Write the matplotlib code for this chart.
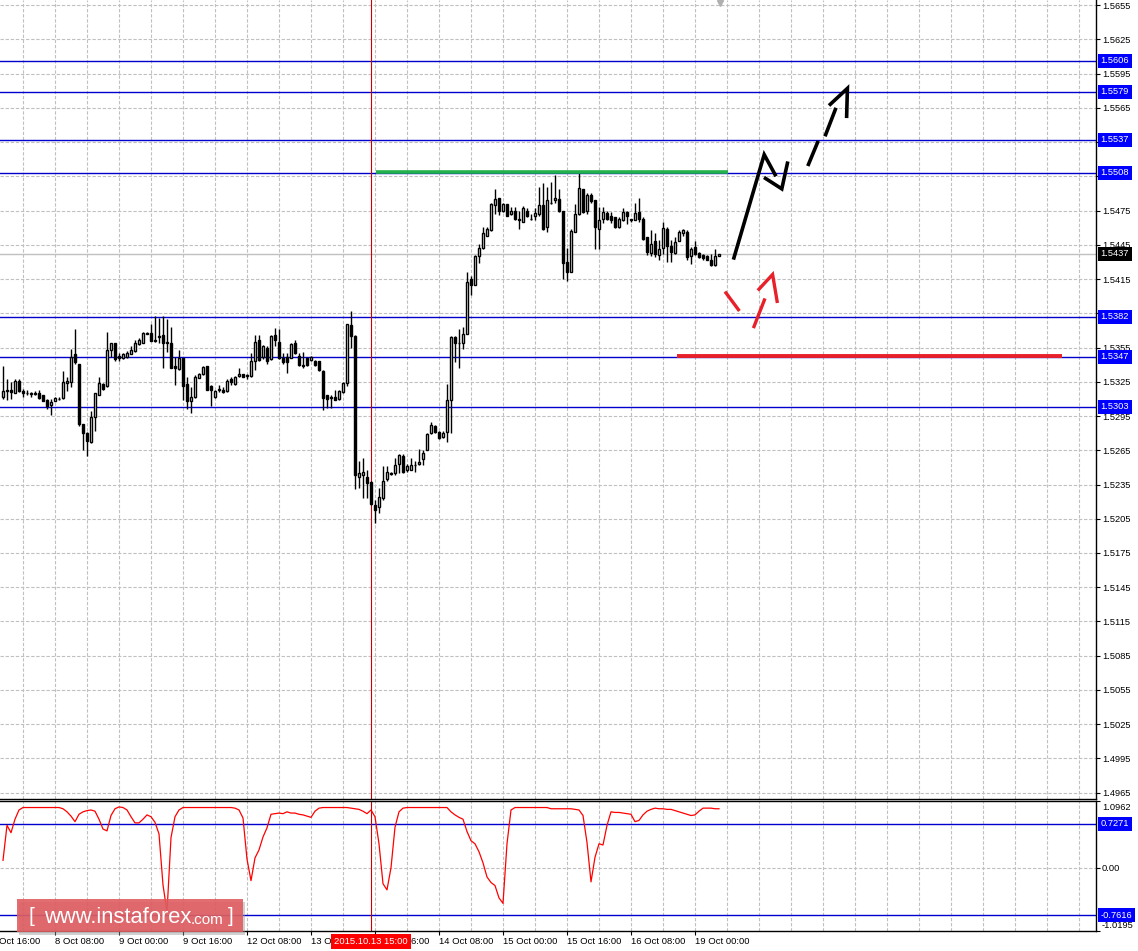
import numpy as np
import matplotlib
matplotlib.use("Agg")
import matplotlib.pyplot as plt
from matplotlib.transforms import Affine2D, blended_transform_factory
from matplotlib.patches import Rectangle

plt.rcParams['font.family'] = ['Liberation Sans', 'DejaVu Sans']

# ---------------- data ----------------
opens = [1.5312, 1.5318, 1.5318, 1.5315, 1.5326, 1.5317, 1.5315, 1.5314, 1.5315, 1.5315,
         1.5313, 1.5309, 1.5305, 1.5308, 1.5310, 1.5311, 1.5324, 1.5325, 1.5349, 1.5341,
         1.5288, 1.5280, 1.5272, 1.5294, 1.5313, 1.5323, 1.5321, 1.5353, 1.5359, 1.5348,
         1.5346, 1.5347, 1.5349, 1.5352, 1.5358, 1.5359, 1.5367, 1.5368, 1.5362, 1.5364,
         1.5366, 1.5360, 1.5359, 1.5339, 1.5336, 1.5346, 1.5323, 1.5308, 1.5312, 1.5328,
         1.5332, 1.5339, 1.5321, 1.5312, 1.5318, 1.5318, 1.5317, 1.5327, 1.5323, 1.5330,
         1.5332, 1.5331, 1.5330, 1.5343, 1.5362, 1.5347, 1.5355, 1.5345, 1.5366, 1.5360,
         1.5346, 1.5347, 1.5346, 1.5359, 1.5348, 1.5340, 1.5346, 1.5344, 1.5343, 1.5343,
         1.5334, 1.5313, 1.5312, 1.5312, 1.5310, 1.5316, 1.5324, 1.5375, 1.5365, 1.5242,
         1.5243, 1.5242, 1.5237, 1.5217, 1.5215, 1.5223, 1.5240, 1.5245, 1.5245, 1.5253,
         1.5260, 1.5248, 1.5248, 1.5252, 1.5253, 1.5257, 1.5265, 1.5280, 1.5286, 1.5281,
         1.5277, 1.5281, 1.5309, 1.5364, 1.5359, 1.5359, 1.5367, 1.5415, 1.5410, 1.5435,
         1.5442, 1.5453, 1.5458, 1.5480, 1.5486, 1.5475, 1.5481, 1.5472, 1.5475, 1.5468,
         1.5465, 1.5475, 1.5468, 1.5470, 1.5472, 1.5480, 1.5461, 1.5482, 1.5484, 1.5485,
         1.5475, 1.5430, 1.5421, 1.5456, 1.5472, 1.5494, 1.5475, 1.5489, 1.5484, 1.5459,
         1.5468, 1.5473, 1.5470, 1.5469, 1.5461, 1.5467, 1.5474, 1.5467, 1.5467, 1.5474,
         1.5468, 1.5452, 1.5438, 1.5448, 1.5436, 1.5442, 1.5459, 1.5444, 1.5438, 1.5448,
         1.5455, 1.5456, 1.5435, 1.5443, 1.5438, 1.5436, 1.5435, 1.5432, 1.5427, 1.5435]

closes = [1.5317, 1.5317, 1.5316, 1.5326, 1.5317, 1.5315, 1.5315, 1.5315, 1.5314, 1.5311,
          1.5308, 1.5304, 1.5307, 1.5311, 1.5310, 1.5325, 1.5326, 1.5347, 1.5342, 1.5288,
          1.5280, 1.5273, 1.5294, 1.5315, 1.5324, 1.5319, 1.5353, 1.5359, 1.5345, 1.5346,
          1.5349, 1.5350, 1.5353, 1.5359, 1.5362, 1.5368, 1.5368, 1.5361, 1.5361, 1.5365,
          1.5359, 1.5359, 1.5337, 1.5337, 1.5346, 1.5321, 1.5308, 1.5312, 1.5329, 1.5332,
          1.5338, 1.5318, 1.5318, 1.5317, 1.5319, 1.5316, 1.5326, 1.5325, 1.5329, 1.5332,
          1.5329, 1.5330, 1.5343, 1.5360, 1.5344, 1.5356, 1.5343, 1.5365, 1.5362, 1.5346,
          1.5342, 1.5342, 1.5358, 1.5350, 1.5340, 1.5339, 1.5340, 1.5347, 1.5340, 1.5335,
          1.5311, 1.5310, 1.5311, 1.5309, 1.5317, 1.5324, 1.5376, 1.5365, 1.5243, 1.5245,
          1.5246, 1.5236, 1.5218, 1.5213, 1.5224, 1.5238, 1.5246, 1.5244, 1.5252, 1.5261,
          1.5246, 1.5251, 1.5252, 1.5252, 1.5255, 1.5263, 1.5279, 1.5287, 1.5281, 1.5276,
          1.5280, 1.5309, 1.5364, 1.5359, 1.5359, 1.5367, 1.5412, 1.5410, 1.5435, 1.5442,
          1.5455, 1.5459, 1.5481, 1.5485, 1.5475, 1.5481, 1.5470, 1.5475, 1.5468, 1.5467,
          1.5477, 1.5470, 1.5468, 1.5473, 1.5480, 1.5459, 1.5484, 1.5482, 1.5486, 1.5475,
          1.5429, 1.5421, 1.5457, 1.5472, 1.5495, 1.5474, 1.5489, 1.5483, 1.5461, 1.5467,
          1.5474, 1.5468, 1.5467, 1.5461, 1.5468, 1.5474, 1.5470, 1.5468, 1.5473, 1.5468,
          1.5450, 1.5439, 1.5446, 1.5437, 1.5441, 1.5460, 1.5444, 1.5439, 1.5447, 1.5456,
          1.5458, 1.5434, 1.5441, 1.5437, 1.5434, 1.5433, 1.5432, 1.5427, 1.5435, 1.5437]

highs = [1.5339, 1.5327, 1.5325, 1.5327, 1.5327, 1.5319, 1.5318, 1.5316, 1.5317, 1.5318,
         1.5313, 1.5310, 1.5310, 1.5312, 1.5312, 1.5334, 1.5329, 1.5354, 1.5371, 1.5341,
         1.5288, 1.5281, 1.5299, 1.5315, 1.5329, 1.5324, 1.5369, 1.5359, 1.5359, 1.5350,
         1.5350, 1.5352, 1.5356, 1.5362, 1.5363, 1.5369, 1.5369, 1.5376, 1.5383, 1.5381,
         1.5383, 1.5380, 1.5373, 1.5347, 1.5353, 1.5346, 1.5329, 1.5320, 1.5331, 1.5333,
         1.5339, 1.5339, 1.5322, 1.5318, 1.5322, 1.5320, 1.5327, 1.5329, 1.5330, 1.5337,
         1.5332, 1.5332, 1.5350, 1.5366, 1.5366, 1.5357, 1.5356, 1.5366, 1.5372, 1.5371,
         1.5350, 1.5350, 1.5359, 1.5362, 1.5350, 1.5351, 1.5347, 1.5348, 1.5344, 1.5343,
         1.5335, 1.5313, 1.5313, 1.5318, 1.5318, 1.5325, 1.5376, 1.5387, 1.5366, 1.5256,
         1.5258, 1.5248, 1.5238, 1.5221, 1.5232, 1.5251, 1.5251, 1.5246, 1.5258, 1.5262,
         1.5262, 1.5253, 1.5258, 1.5256, 1.5266, 1.5265, 1.5280, 1.5290, 1.5287, 1.5282,
         1.5282, 1.5323, 1.5365, 1.5365, 1.5371, 1.5373, 1.5421, 1.5418, 1.5436, 1.5446,
         1.5461, 1.5461, 1.5482, 1.5494, 1.5486, 1.5482, 1.5481, 1.5478, 1.5478, 1.5475,
         1.5479, 1.5477, 1.5472, 1.5477, 1.5496, 1.5499, 1.5496, 1.5500, 1.5506, 1.5494,
         1.5475, 1.5442, 1.5459, 1.5481, 1.5508, 1.5494, 1.5490, 1.5490, 1.5484, 1.5478,
         1.5478, 1.5475, 1.5474, 1.5469, 1.5469, 1.5477, 1.5475, 1.5468, 1.5482, 1.5486,
         1.5469, 1.5452, 1.5458, 1.5455, 1.5449, 1.5465, 1.5461, 1.5449, 1.5452, 1.5458,
         1.5459, 1.5458, 1.5443, 1.5448, 1.5439, 1.5437, 1.5436, 1.5437, 1.5441, 1.5437]

lows = [1.5310, 1.5309, 1.5310, 1.5315, 1.5316, 1.5312, 1.5313, 1.5312, 1.5313, 1.5310,
        1.5308, 1.5301, 1.5296, 1.5308, 1.5309, 1.5310, 1.5317, 1.5320, 1.5341, 1.5286,
        1.5265, 1.5260, 1.5271, 1.5282, 1.5313, 1.5318, 1.5320, 1.5347, 1.5343, 1.5343,
        1.5345, 1.5346, 1.5349, 1.5351, 1.5357, 1.5359, 1.5367, 1.5361, 1.5360, 1.5359,
        1.5337, 1.5351, 1.5337, 1.5322, 1.5335, 1.5309, 1.5301, 1.5298, 1.5311, 1.5328,
        1.5331, 1.5318, 1.5304, 1.5311, 1.5316, 1.5315, 1.5316, 1.5322, 1.5322, 1.5329,
        1.5329, 1.5327, 1.5329, 1.5335, 1.5343, 1.5345, 1.5341, 1.5344, 1.5356, 1.5345,
        1.5341, 1.5333, 1.5346, 1.5349, 1.5339, 1.5337, 1.5339, 1.5343, 1.5339, 1.5334,
        1.5300, 1.5302, 1.5302, 1.5309, 1.5309, 1.5315, 1.5321, 1.5355, 1.5231, 1.5232,
        1.5223, 1.5223, 1.5217, 1.5201, 1.5210, 1.5221, 1.5238, 1.5243, 1.5243, 1.5245,
        1.5245, 1.5246, 1.5248, 1.5246, 1.5252, 1.5252, 1.5265, 1.5279, 1.5280, 1.5275,
        1.5276, 1.5272, 1.5280, 1.5342, 1.5337, 1.5354, 1.5367, 1.5401, 1.5410, 1.5429,
        1.5441, 1.5453, 1.5457, 1.5472, 1.5471, 1.5474, 1.5470, 1.5471, 1.5467, 1.5459,
        1.5465, 1.5469, 1.5467, 1.5467, 1.5470, 1.5458, 1.5456, 1.5481, 1.5482, 1.5474,
        1.5415, 1.5413, 1.5421, 1.5456, 1.5471, 1.5473, 1.5472, 1.5482, 1.5441, 1.5441,
        1.5464, 1.5467, 1.5464, 1.5460, 1.5460, 1.5466, 1.5463, 1.5465, 1.5467, 1.5465,
        1.5449, 1.5436, 1.5435, 1.5434, 1.5432, 1.5437, 1.5430, 1.5430, 1.5437, 1.5448,
        1.5453, 1.5432, 1.5428, 1.5436, 1.5433, 1.5432, 1.5432, 1.5426, 1.5426, 1.5435]

indicator = [0.13, 0.70, 0.58, 0.80, 0.95, 0.99, 0.99, 0.99, 0.99, 0.99,
             0.99, 0.99, 0.99, 0.99, 0.99, 0.97, 0.92, 0.85, 0.76, 0.88,
             0.92, 0.94, 0.95, 0.93, 0.80, 0.64, 0.61, 0.86, 0.97, 1.00,
             0.99, 0.95, 0.84, 0.74, 0.74, 0.80, 0.87, 0.84, 0.75, 0.56,
             -0.27, -0.71, 0.50, 0.84, 0.95, 0.99, 0.99, 0.99, 0.99, 0.99,
             0.99, 0.99, 0.99, 0.99, 0.99, 0.99, 0.99, 0.99, 0.98, 0.95,
             0.82, 0.15, -0.20, 0.17, 0.30, 0.51, 0.66, 0.88, 0.89, 0.90,
             0.89, 0.92, 0.90, 0.90, 0.88, 0.87, 0.85, 0.83, 0.93, 0.98,
             0.99, 0.99, 0.99, 0.99, 0.99, 0.99, 0.99, 0.98, 0.97, 0.96,
             0.93, 0.89, 0.95, 0.84, 0.40, -0.25, -0.35, 0.01, 0.67, 0.92,
             0.98, 0.99, 0.99, 0.99, 0.99, 0.99, 0.99, 0.99, 0.99, 0.99,
             0.99, 0.99, 0.92, 0.87, 0.83, 0.80, 0.60, 0.45, 0.40, 0.27,
             0.09, -0.14, -0.23, -0.28, -0.48, -0.57, 0.40, 0.95, 0.99, 0.99,
             0.99, 0.99, 0.99, 0.99, 0.99, 0.99, 0.99, 0.97, 0.97, 0.97,
             0.97, 0.97, 0.97, 0.96, 0.95, 0.86, 0.42, -0.22, 0.18, 0.40,
             0.38, 0.70, 0.92, 0.91, 0.91, 0.90, 0.89, 0.88, 0.76, 0.78,
             0.87, 0.93, 0.96, 0.98, 0.97, 0.97, 0.96, 0.96, 0.94, 0.92,
             0.90, 0.88, 0.86, 0.87, 0.93, 0.98, 0.98, 0.98, 0.97, 0.97]

price_ticks = [1.4965, 1.4995, 1.5025, 1.5055, 1.5085, 1.5115, 1.5145, 1.5175,
               1.5205, 1.5235, 1.5265, 1.5295, 1.5325, 1.5355, 1.5385, 1.5415,
               1.5445, 1.5475, 1.5505, 1.5535, 1.5565, 1.5595, 1.5625, 1.5655]
levels = [1.5606, 1.5579, 1.5537, 1.5508, 1.5382, 1.5347, 1.5303]
bid = 1.5437
ind_levels = [0.7271, -0.7616]
ind_min, ind_max = -1.0195, 1.0962

time_tick_bars = [-3, 13, 29, 45, 61, 77, 93, 109, 125, 141, 157, 173]
time_labels = ["7 Oct 16:00", "8 Oct 08:00", "9 Oct 00:00", "9 Oct 16:00",
               "12 Oct 08:00", "13 Oct 00:00", "13 Oct 16:00", "14 Oct 08:00",
               "15 Oct 00:00", "15 Oct 16:00", "16 Oct 08:00", "19 Oct 00:00"]
cursor_bar = 92
cursor_label = "2015.10.13 15:00"

# hand-drawn annotations (bar index, price)
green_line = ([93.25, 181.25], 1.5509)
red_line = ([168.5, 264.75], 1.5348)
black_paths = [
    [(182.6, 1.5432), (190.3, 1.5524), (193.25, 1.5505)],
    [(190.25, 1.5504), (194.7, 1.5494), (196.2, 1.5518)],
    [(201.2, 1.5514), (203.8, 1.5536)],
    [(205.5, 1.5540), (208.25, 1.5565)],
    [(206.5, 1.5567), (211.1, 1.5582), (210.9, 1.5556)],
]
red_paths = [
    [(180.5, 1.5404), (184.1, 1.5387)],
    [(187.6, 1.5372), (190.5, 1.5398)],
    [(188.7, 1.5405), (192.4, 1.5419), (193.6, 1.5394)],
]

# ---------------- figure ----------------
W, H = 1138, 951
fig = plt.figure(figsize=(W / 100, H / 100), dpi=100)
fig.patch.set_facecolor('white')
pix = Affine2D().scale(1 / W, -1 / H).translate(0, 1) + fig.transFigure

ax = fig.add_axes([0, 1 - 799 / H, 1096 / W, 799 / H])
ax2 = fig.add_axes([0, 1 - 931 / H, 1096 / W, 130 / H])

XMIN, XMAX = -0.75, 273.25
YMIN, YMAX = 1.49595, 1.565943
grid_kw = dict(color='#c0c0c0', lw=0.8, ls=(0, (3.0, 1.6)), zorder=0)

o = np.array(opens); c = np.array(closes); h = np.array(highs); l = np.array(lows)
x = np.arange(len(o))

# main panel
for gx in np.arange(5, XMAX, 8):
    ax.axvline(gx, **grid_kw)
    ax2.axvline(gx, **grid_kw)
for p in price_ticks:
    ax.axhline(p, **grid_kw)

ax.axhline(bid, color='#c0c0c0', lw=1.0, zorder=1)
for lv in levels:
    ax.axhline(lv, color='#0000cc', lw=1.0, zorder=1.5)

ax.axvline(cursor_bar, color='#cc0000', lw=0.8, zorder=2)
ax2.axvline(cursor_bar, color='#cc0000', lw=0.8, zorder=2)

up = c >= o
ax.vlines(x, l, h, color='black', lw=1.0, zorder=3)
ax.bar(x, np.abs(c - o), bottom=np.minimum(o, c), width=0.55,
       color=np.where(up, 'white', 'black'), edgecolor='black', linewidth=1.0, zorder=4)

ax.plot(green_line[0], [green_line[1]] * 2, color='#22b14c', lw=2.6, solid_capstyle='butt', zorder=5)
ax.plot(red_line[0], [red_line[1]] * 2, color='#e8202a', lw=2.8, solid_capstyle='butt', zorder=5)
for path in black_paths:
    xs, ys = zip(*path)
    ax.plot(xs, ys, color='black', lw=2.6, solid_capstyle='butt', solid_joinstyle='miter', zorder=6)
for path in red_paths:
    xs, ys = zip(*path)
    ax.plot(xs, ys, color='#e8202a', lw=2.4, solid_capstyle='butt', solid_joinstyle='miter', zorder=6)

ax.plot([179.2], [1.5657], marker='v', color='#b0b0b0', ms=5, clip_on=False, zorder=7)

ax.yaxis.tick_right()
ax.set_yticks(price_ticks)
ax.set_yticklabels([f"{p:.4f}" for p in price_ticks])
ax.tick_params(axis='y', right=True, left=False, length=2.6, width=0.8, pad=2.2,
               labelsize=6.7, colors='black')
ax.set_xticks([])
ax.set_xlim(XMIN, XMAX)
ax.set_ylim(YMIN, YMAX)
for s in ['left', 'top']:
    ax.spines[s].set_visible(False)
for s in ['right', 'bottom']:
    ax.spines[s].set_linewidth(1.0)

btr = blended_transform_factory(ax.transAxes, ax.transData)
for lv in levels:
    ax.text(1.0042, lv, f"{lv:.4f}", transform=btr, ha='left', va='center', color='white',
            fontsize=6.7, zorder=20, clip_on=False,
            bbox=dict(boxstyle='square,pad=0.28', fc='#0000ff', ec='none'))
ax.text(1.0042, bid, f"{bid:.4f}", transform=btr, ha='left', va='center', color='white',
        fontsize=6.7, zorder=20, clip_on=False,
        bbox=dict(boxstyle='square,pad=0.28', fc='black', ec='none'))

# indicator panel
ax2.axhline(0, **grid_kw)
for lv in ind_levels:
    ax2.axhline(lv, color='#0000cc', lw=1.0, zorder=1.5)
ax2.plot(x, indicator, color='#ff0000', lw=0.9, zorder=3)
ax2.spines['left'].set_visible(False)
for s in ['right', 'bottom', 'top']:
    ax2.spines[s].set_linewidth(1.0)
ax2.yaxis.tick_right()
ax2.set_yticks([ind_max, 0, ind_min])
ax2.set_yticklabels([])
ax2.tick_params(axis='y', right=True, left=False, length=2.6, width=0.8)
visible = [(b, t) for b, t in zip(time_tick_bars, time_labels) if b >= XMIN]
ax2.set_xticks([b for b, _ in visible])
ax2.set_xticklabels([t for _, t in visible], ha='left')
ax2.tick_params(axis='x', bottom=True, length=3.0, width=0.8, pad=1.5, labelsize=6.8)
ax2.set_xlim(XMIN, XMAX)
ax2.set_ylim(ind_min, ind_max)
# label whose tick lies just left of the visible range (cut by the left edge)
btx = blended_transform_factory(ax2.transData, fig.transFigure)
for b, t in zip(time_tick_bars, time_labels):
    if b < XMIN:
        ax2.text(b, 1 - 941.5 / H, t, transform=btx, ha='left', va='center',
                 fontsize=6.8, clip_on=False)

btr2 = blended_transform_factory(ax2.transAxes, ax2.transData)
ax2.text(1.0055, ind_max - 0.03, f"{ind_max:.4f}", transform=btr2, ha='left', va='top', fontsize=6.7)
ax2.text(1.0055, 0, "0.00", transform=btr2, ha='left', va='center', fontsize=6.7)
ax2.text(1.0055, ind_min + 0.02, f"{ind_min:.4f}", transform=btr2, ha='left', va='bottom', fontsize=6.7)
for lv in ind_levels:
    ax2.text(1.0042, lv, f"{lv:.4f}", transform=btr2, ha='left', va='center', color='white',
             fontsize=6.7, zorder=20, clip_on=False,
             bbox=dict(boxstyle='square,pad=0.28', fc='#0000ff', ec='none'))

# cursor time label
fig.text(371, 941.5, cursor_label, transform=pix, ha='center', va='center', color='white',
         fontsize=6.8, zorder=30,
         bbox=dict(boxstyle='square,pad=0.3', fc='#ff0000', ec='none'))

# logo
fig.patches.append(Rectangle((19, 902), 226, 33, transform=pix, fc='#9a9a9a', ec='none',
                             alpha=0.45, zorder=25))
fig.patches.append(Rectangle((17, 899), 226, 33, transform=pix, fc='#e05a5e', ec='none',
                             alpha=0.88, zorder=26))
fig.text(29, 917, "[", transform=pix, ha='left', va='center', color='white', fontsize=15, zorder=27)
fig.text(44, 917.5, "www.instaforex", transform=pix, ha='left', va='center', color='white',
         fontsize=15.8, zorder=27)
fig.text(191, 920, ".com", transform=pix, ha='left', va='center', color='white',
         fontsize=11, zorder=27)
fig.text(228, 917, "]", transform=pix, ha='left', va='center', color='white', fontsize=15, zorder=27)

fig.savefig("out.png", dpi=100, facecolor='white')
